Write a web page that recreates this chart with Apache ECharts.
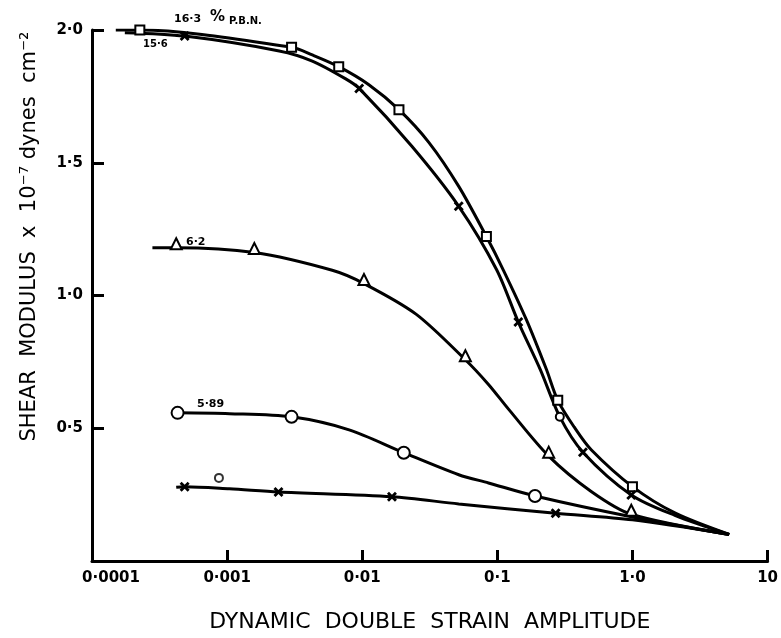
<!DOCTYPE html>
<html>
<head>
<meta charset="utf-8">
<script src="https://cdn.jsdelivr.net/npm/echarts@6/dist/echarts.min.js"></script>
<style>
  html, body { margin: 0; padding: 0; background: #fff; }
  #chart { width: 781px; height: 638px; }
</style>
</head>
<body>
<div id="chart"></div>
<script>
// tick labels
const xTickLabels = ['0·0001', '0·001', '0·01', '0·1', '1·0', '10']
const yTickLabels = ['', '0·5', '1·0', '1·5', '2·0']

// marker flags: 0 = curve only, 1 = series marker, 2 = small open circle

// 16.3 % P.B.N. (squares)
const pbn163X = [0.00015, 0.000226, 0.003, 0.00427, 0.0067, 0.0112, 0.0187, 0.0311, 0.0518, 0.083, 0.111, 0.164, 0.231, 0.28, 0.37, 0.495, 1.0, 2.06, 5.2]
const pbn163Y = [2.0, 2.0, 1.935, 1.906, 1.862, 1.794, 1.70, 1.577, 1.411, 1.222, 1.095, 0.909, 0.721, 0.605, 0.505, 0.419, 0.28, 0.181, 0.10]
const pbn163Mark = [0, 1, 1, 0, 1, 0, 1, 0, 0, 1, 0, 0, 0, 1, 0, 0, 1, 0, 0]

// 15.6 (crosses)
const pbn156X = [0.000175, 0.000485, 0.00243, 0.00427, 0.0076, 0.0095, 0.0233, 0.0518, 0.0986, 0.143, 0.208, 0.29, 0.43, 0.98, 2.06, 5.2]
const pbn156Y = [1.99, 1.977, 1.921, 1.883, 1.815, 1.78, 1.562, 1.336, 1.098, 0.9, 0.721, 0.543, 0.41, 0.249, 0.172, 0.10]
const pbn156Mark = [0, 1, 0, 0, 0, 1, 0, 1, 0, 1, 0, 2, 1, 1, 0, 0]

// 6.2 (triangles, drawn sitting on the curve)
const pbn62X = [0.00028, 0.00042, 0.00159, 0.006, 0.0103, 0.025, 0.058, 0.086, 0.121, 0.24, 0.495, 0.98, 5.2]
const pbn62Y = [1.18, 1.18, 1.162, 1.095, 1.045, 0.93, 0.758, 0.665, 0.572, 0.395, 0.262, 0.176, 0.10]
const pbn62Mark = [0, 1, 1, 0, 1, 0, 1, 0, 0, 1, 0, 1, 0]

// 5.89 (circles)
const pbn589X = [0.00043, 0.00104, 0.003, 0.008, 0.0203, 0.0518, 0.086, 0.19, 1.0, 5.2]
const pbn589Y = [0.558, 0.555, 0.543, 0.494, 0.408, 0.325, 0.294, 0.245, 0.166, 0.10]
const pbn589Mark = [1, 0, 1, 0, 1, 0, 0, 1, 0, 0]

// lowest curve (crosses)
const lowX = [0.00042, 0.000485, 0.00104, 0.0024, 0.0166, 0.0518, 0.27, 1.0, 5.2]
const lowY = [0.278, 0.28, 0.272, 0.26, 0.242, 0.215, 0.18, 0.155, 0.10]
const lowMark = [0, 1, 0, 1, 1, 0, 1, 0, 0]

// stray point
const strayX = [0.00087]
const strayY = [0.313]

const crossPath = 'path://M0,2L2,0L5,3L8,0L10,2L7,5L10,8L8,10L5,7L2,10L0,8L3,5Z'
const font = 'DejaVu Sans'

const build = (xs, ys, marks, symbol) =>
  xs.map((x, i) => ({
    value: [x, ys[i]],
    symbol: marks[i] === 0 ? 'none' : marks[i] === 2 ? 'emptyCircle' : symbol,
    symbolSize: marks[i] === 2 ? 8 : undefined,
    symbolOffset: marks[i] === 2 ? [0, 0] : undefined,
  }))

const lineSeries = (xs, ys, marks, symbol, size, filled, offset) => ({
  type: 'line',
  smooth: 0.3,
  data: build(xs, ys, marks, symbol),
  symbol,
  symbolSize: size,
  symbolOffset: offset || [0, 0],
  showAllSymbol: true,
  lineStyle: { color: '#000', width: 3 },
  itemStyle: { color: filled ? '#000' : '#fff', borderColor: '#000', borderWidth: filled ? 0 : 2 },
  z: 3,
})

const chart = echarts.init(document.getElementById('chart'))

chart.setOption({
  animation: false,
  backgroundColor: '#fff',
  grid: { left: 92, right: 11, top: 30, bottom: 77 },
  xAxis: {
    type: 'log',
    logBase: 10,
    min: 0.0001,
    max: 10,
    name: 'DYNAMIC  DOUBLE  STRAIN  AMPLITUDE',
    nameLocation: 'middle',
    nameGap: 50,
    nameTextStyle: { fontFamily: font, fontSize: 22, color: '#000' },
    axisLine: { lineStyle: { color: '#000', width: 3 } },
    axisTick: { inside: true, length: 11, lineStyle: { color: '#000', width: 3 } },
    minorTick: { show: false },
    splitLine: { show: false },
    axisLabel: {
      margin: 10,
      color: '#000',
      fontFamily: font,
      fontSize: 15,
      fontWeight: 'bold',
      formatter: v => {
        const i = Math.round(Math.log10(v)) + 4
        return i === 0 ? '{first|' + xTickLabels[i] + '}' : xTickLabels[i]
      },
      rich: {
        first: { fontFamily: font, fontSize: 15, fontWeight: 'bold', color: '#000', padding: [0, 0, 0, 38] },
      },
    },
  },
  yAxis: {
    type: 'value',
    min: 0,
    max: 2,
    interval: 0.5,
    name: 'SHEAR  MODULUS  x  10⁻⁷ dynes  cm⁻²',
    nameLocation: 'middle',
    nameGap: 52,
    nameTextStyle: { fontFamily: font, fontSize: 21, color: '#000', padding: [0, 0, 0, 118] },
    axisLine: { show: true, lineStyle: { color: '#000', width: 3 } },
    axisTick: { show: true, inside: true, length: 12, lineStyle: { color: '#000', width: 3 } },
    splitLine: { show: false },
    axisLabel: {
      margin: 9,
      color: '#000',
      fontFamily: font,
      fontSize: 15,
      fontWeight: 'bold',
      formatter: v => yTickLabels[Math.round(v / 0.5)],
    },
  },
  series: [
    lineSeries(pbn163X, pbn163Y, pbn163Mark, 'rect', 9, false),
    lineSeries(pbn156X, pbn156Y, pbn156Mark, crossPath, 10, true),
    lineSeries(pbn62X, pbn62Y, pbn62Mark, 'triangle', 11, false, [0, -4]),
    lineSeries(pbn589X, pbn589Y, pbn589Mark, 'circle', 12, false),
    lineSeries(lowX, lowY, lowMark, crossPath, 10, true),
    {
      type: 'scatter',
      data: strayX.map((x, i) => [x, strayY[i]]),
      symbol: 'circle',
      symbolSize: 8,
      itemStyle: { color: '#fff', borderColor: '#000', borderWidth: 2 },
      z: 3,
    },
  ],
  graphic: [
    { type: 'text', left: 174, top: 14, style: { text: '16·3', font: 'bold 11px DejaVu Sans', fill: '#000' } },
    { type: 'text', left: 210, top: 10, style: { text: '%', font: 'bold 15px DejaVu Sans', fill: '#000' } },
    { type: 'text', left: 229, top: 16, style: { text: 'P.B.N.', font: 'bold 10px DejaVu Sans', fill: '#000' } },
    { type: 'text', left: 143, top: 39, style: { text: '15·6', font: 'bold 10px DejaVu Sans', fill: '#000' } },
    { type: 'text', left: 186, top: 237, style: { text: '6·2', font: 'bold 11px DejaVu Sans', fill: '#000' } },
    { type: 'text', left: 197, top: 399, style: { text: '5·89', font: 'bold 11px DejaVu Sans', fill: '#000' } },
  ],
})
</script>
</body>
</html>
